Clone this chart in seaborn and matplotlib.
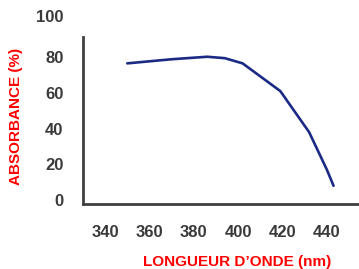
import pandas as pd
import seaborn as sns
import matplotlib.pyplot as plt
from matplotlib.transforms import ScaledTranslation

# wavelength (nm) and absorbance (%)
wavelength = [350, 370, 386, 394, 402, 419, 432, 440, 443]
absorbance = [76.5, 78.8, 80.2, 79.4, 76.5, 61, 38, 17, 8]

x_ticks = [340, 360, 380, 400, 420, 440]
y_ticks = [0, 20, 40, 60, 80, 100]

df = pd.DataFrame({'wavelength': wavelength, 'absorbance': absorbance})

sns.set_style('white')
plt.rcParams['font.family'] = ['Liberation Sans', 'DejaVu Sans']

fig = plt.figure(figsize=(3.59, 2.69), dpi=100)
ax = fig.add_axes([0.231, 0.2416, 0.766, 0.6989])

sns.lineplot(data=df, x='wavelength', y='absorbance', ax=ax,
             color='#1b2b85', linewidth=1.9)

ax.set_xlim(330, 454)
ax.set_ylim(-2.2, 103)
ax.set_xticks(x_ticks)
ax.set_yticks(y_ticks)
ax.tick_params(axis='both', length=0, labelsize=12, labelcolor='#3a3a3a')
ax.tick_params(axis='x', pad=15)
ax.tick_params(axis='y', pad=14)
for lab in ax.get_xticklabels() + ax.get_yticklabels():
    lab.set_fontweight('bold')

# the "100" label sits a little higher than the linear scale in the original
top = ax.yaxis.get_major_ticks()[-1].label1
top.set_transform(top.get_transform() + ScaledTranslation(0, 5 / 100, fig.dpi_scale_trans))

for side in ['top', 'right']:
    ax.spines[side].set_visible(False)
for side in ['left', 'bottom']:
    ax.spines[side].set_color('#404040')
    ax.spines[side].set_linewidth(2)
ax.spines['left'].set_bounds(-2.2, 91)

ax.set_xlabel('LONGUEUR D\u2019ONDE (nm)', color='red', fontsize=11,
              fontweight='bold', va='center')
ax.set_ylabel('ABSORBANCE (%)', color='red', fontsize=11,
              fontweight='bold', va='center')
ax.xaxis.set_label_coords((237 - 83) / 275, (204 - 262) / 188)
ax.yaxis.set_label_coords((16 - 83) / 275, (204 - 116) / 188)

plt.savefig('out.png', dpi=100)
